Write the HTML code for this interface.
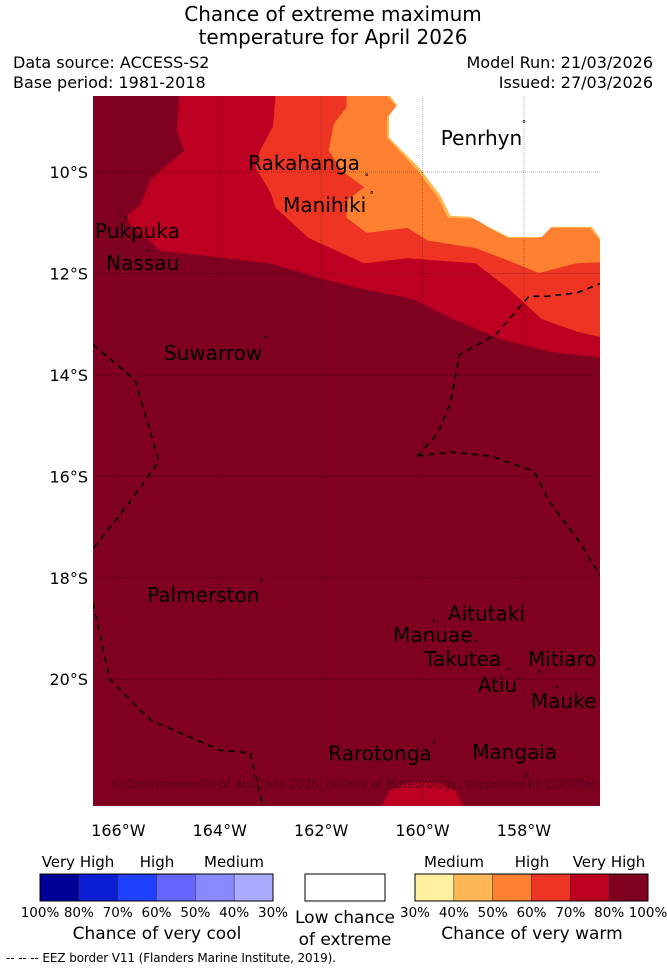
<!DOCTYPE html>
<html><head><meta charset="utf-8"><style>
body{margin:0;background:#fff;width:667px;height:972px;overflow:hidden;font-family:"DejaVu Sans","Liberation Sans",sans-serif;}
svg{position:absolute;left:0;top:0}
</style></head><body>
<svg id="s" width="667" height="972">
<text x="333" y="21" text-anchor="middle" font-size="20">Chance of extreme maximum</text>
<text x="333" y="44" text-anchor="middle" font-size="20">temperature for April 2026</text>
<text x="13" y="68" font-size="16">Data source: ACCESS-S2</text>
<text x="13" y="88" font-size="16">Base period: 1981-2018</text>
<text x="653" y="68" font-size="16" text-anchor="end">Model Run: 21/03/2026</text>
<text x="653" y="88" font-size="16" text-anchor="end">Issued: 27/03/2026</text>
<defs><clipPath id="mc"><rect x="93" y="96" width="507" height="710"/></clipPath></defs>
<g id="map" clip-path="url(#mc)"></g>
<g id="axes"></g>
<g id="legend"></g>
<text x="6" y="962" font-size="12" font-family="DejaVu Sans, sans-serif" textLength="330">--  --  -- EEZ border V11 (Flanders Marine Institute, 2019).</text>
</svg>
<script>
const NS='http://www.w3.org/2000/svg';
const lonW=-166.5, lonE=-156.5, latN=-8.5, latS=-22.5;
const X0=93,X1=600,Y0=96,Y1=806;
function xs(lon){return X0+(lon-lonW)/(lonE-lonW)*(X1-X0);}
function ys(lat){return Y0+(latN-lat)/(latN-latS)*(Y1-Y0);}
const redEdge=[[-164.8,-8.5],[-164.85,-9.17],[-164.7,-9.57],[-165.37,-10.15],[-165.57,-10.65],[-165.83,-10.85],[-165.8,-11],[-165.17,-11.55],[-163,-11.8],[-162,-12.1],[-161.2,-12.3],[-160.2,-12.5],[-159.4,-12.9],[-158.45,-13.3],[-157.45,-13.55],[-156.5,-13.65]];
const oredEdge=[[-162.9,-8.5],[-162.95,-9.1],[-163.2,-9.57],[-163.3,-9.9],[-163,-10.4],[-162.9,-10.7],[-162.25,-11.3],[-161.15,-11.8],[-160.3,-11.7],[-158.95,-11.8],[-158.3,-12.3],[-157.65,-12.9],[-156.95,-13.15],[-156.5,-13.25]];
const orangeEdge=[[-161.5,-8.5],[-161.5,-8.72],[-161.75,-9.05],[-161.85,-9.57],[-161.6,-9.97],[-161.15,-10.3],[-161.48,-10.55],[-161.5,-10.9],[-161.1,-11.2],[-160.3,-11.1],[-159.9,-11.35],[-158.95,-11.5],[-158.3,-11.75],[-157.7,-11.99],[-156.97,-11.8],[-156.5,-11.78]];
const lorEdge=[[-160.7,-8.5],[-160.5,-8.72],[-160.7,-8.92],[-160.7,-9.32],[-160.1,-9.97],[-159.7,-10.5],[-159.5,-10.9],[-158.95,-10.92],[-158.7,-11.1],[-158.3,-11.3],[-157.7,-11.3],[-157.5,-11.1],[-156.7,-11.1],[-156.5,-11.35]];
const whiteEdge=[[-160.64,-8.5],[-160.5,-8.68],[-160.66,-8.88],[-160.66,-9.32],[-160.05,-9.93],[-159.65,-10.46],[-159.45,-10.86],[-159.05,-10.88],[-158.7,-11.08],[-158.3,-11.28],[-157.65,-11.28],[-157.45,-11.08],[-156.66,-11.08],[-156.5,-11.3]];
const blob=[[-160.8,-22.5],[-160.65,-22.2],[-160.25,-22.03],[-159.65,-22.03],[-159.35,-22.2],[-159.2,-22.5]];
const eez1=[[-166.5,-13.4],[-165.67,-14.1],[-165.2,-15.7],[-165.77,-16.5],[-166.5,-17.43]];
const eez2=[[-160.1,-15.6],[-159.7,-15.15],[-159.45,-14.55],[-159.27,-13.6],[-158.55,-13.2],[-157.9,-12.45],[-157.55,-12.45],[-156.95,-12.38],[-156.5,-12.2]];
const eez3=[[-160.1,-15.6],[-159.45,-15.52],[-158.65,-15.6],[-157.8,-15.9],[-157.5,-16.5],[-156.9,-17.3],[-156.5,-17.95]];
const eez4=[[-166.5,-18.5],[-166.17,-20.0],[-165.37,-20.8],[-164,-21.4],[-163.4,-21.45],[-163.15,-22.5]];
const lonTicks=[-166,-164,-162,-160,-158];
const latTicks=[-10,-12,-14,-16,-18,-20];
const islands=[["Penrhyn",-158.0,-9.0,-159.64,-9.33],["Rakahanga",-161.1,-10.05,-163.44,-9.82],["Manihiki",-161.0,-10.4,-162.75,-10.65],["Pukpuka",-165.85,-10.9,-166.46,-11.16],["Nassau",-165.4,-11.55,-166.24,-11.79],["Suwarrow",-163.1,-13.25,-165.1,-13.57],["Palmerston",-163.17,-18.05,-165.43,-18.34],["Aitutaki",-159.78,-18.85,-159.5,-18.7],["Manuae",-158.95,-19.25,-160.58,-19.13],["Takutea",-158.3,-19.8,-159.97,-19.6],["Mitiaro",-157.7,-19.85,-157.92,-19.6],["Atiu",-158.1,-19.98,-158.91,-20.11],["Mauke",-157.35,-20.15,-157.86,-20.43],["Rarotonga",-159.77,-21.23,-161.86,-21.46],["Mangaia",-157.93,-21.9,-159.02,-21.44]];
const coolColors=['#000099','#0a1ed6','#2040ff','#6464ff','#8a8aff','#aaaaff'];
const coolTicks=['100%','80%','70%','60%','50%','40%','30%'];
const warmColors=['#fff0a0','#fdb855','#fd7f30','#ee3524','#bd0021','#800020'];
const warmTicks=['30%','40%','50%','60%','70%','80%','100%'];

function mk(tag,attrs,parent){const e=document.createElementNS(NS,tag);for(const k in attrs)e.setAttribute(k,attrs[k]);parent.appendChild(e);return e;}
const map=document.getElementById('map'),axes=document.getElementById('axes'),leg=document.getElementById('legend');
function pts(arr){return arr.map(p=>xs(p[0]).toFixed(1)+','+ys(p[1]).toFixed(1)).join(' ');}
function topRegion(edge,color,name){
  const poly=edge.concat([[lonE+1,edge[edge.length-1][1]],[lonE+1,latN+1],[edge[0][0],latN+1]]);
  const e=mk('polygon',{points:pts(poly),fill:color},map);
  
  
}
let bg=mk('rect',{x:X0,y:Y0,width:X1-X0,height:Y1-Y0,fill:'#800020'},map);


topRegion(redEdge,'#bd0021','70-80-region');
topRegion(oredEdge,'#ee3524','60-70-region');
topRegion(orangeEdge,'#fd7f30','50-60-region');
topRegion(lorEdge,'#fdb855','40-50-region');
topRegion(whiteEdge,'#ffffff','low-chance-region');
let bl=mk('polygon',{points:pts(blob.concat([[blob[blob.length-1][0],latS-1],[blob[0][0],latS-1]])),fill:'#bd0021'},map);


lonTicks.forEach(l=>{const g=mk('line',{x1:xs(l),x2:xs(l),y1:Y0,y2:Y1,stroke:'rgba(0,0,0,0.35)','stroke-width':0.8,'stroke-dasharray':'1,1'},map);

});
latTicks.forEach(l=>{const g=mk('line',{x1:X0,x2:X1,y1:ys(l),y2:ys(l),stroke:'rgba(0,0,0,0.35)','stroke-width':0.8,'stroke-dasharray':'1,1'},map);

});
[eez1,eez2,eez3,eez4].forEach(a=>{const e=mk('polyline',{points:pts(a),fill:'none',stroke:'#000','stroke-width':1.6,'stroke-dasharray':'6,5'},map);

});
islands.forEach(i=>{
  const d=mk('circle',{cx:xs(i[1]),cy:ys(i[2]),r:1,fill:'none',stroke:'#000','stroke-width':0.6},map);
  
  
  const t=mk('text',{x:xs(i[3]),y:ys(i[4])+7,'font-size':20,fill:'#000'},map);t.textContent=i[0];
  
  
});
let cp=mk('text',{x:110,y:788,'font-size':12,fill:'#55001a',textLength:487,lengthAdjust:'spacingAndGlyphs'},map);cp.textContent='© Commonwealth of Australia 2026, Bureau of Meteorology, supported by COSPPac';


lonTicks.forEach(l=>{const t=mk('text',{x:xs(l),y:836,'font-size':16,'text-anchor':'middle'},axes);t.textContent=(-l)+'°W';

});
latTicks.forEach(l=>{const t=mk('text',{x:88,y:ys(l)+6,'font-size':16,'text-anchor':'end'},axes);t.textContent=(-l)+'°S';

});
function bar(x0,colors,ticks,name){
  const w=233/colors.length;
  colors.forEach((c,i)=>{const r=mk('rect',{x:x0+i*w,y:874,width:w,height:27,fill:c,stroke:'#333','stroke-width':0.5},leg);
  
  });
  mk('rect',{x:x0,y:874,width:233,height:27,fill:'none',stroke:'#000','stroke-width':1},leg);
  ticks.forEach((tk,i)=>{const t=mk('text',{x:x0+i*w,y:917,'font-size':13.5,'text-anchor':'middle'},leg);t.textContent=tk;
  
  });
}
bar(40,coolColors,coolTicks,'cool');
bar(415,warmColors,warmTicks,'warm');
let wb=mk('rect',{x:305,y:874,width:80,height:27,fill:'#fff',stroke:'#000','stroke-width':1},leg);


[['Very High',78,867,15],['High',157,867,15],['Medium',234,867,15],['Medium',454,867,15],['High',532,867,15],['Very High',609,867,15],
 ['Chance of very cool',157,939,17],['Low chance',345,923,17],['of extreme',345,945,17],['Chance of very warm',532,939,17]].forEach(a=>{
 const t=mk('text',{x:a[1],y:a[2],'font-size':a[3],'text-anchor':'middle'},leg);t.textContent=a[0];
 
 });
</script>
</body></html>
